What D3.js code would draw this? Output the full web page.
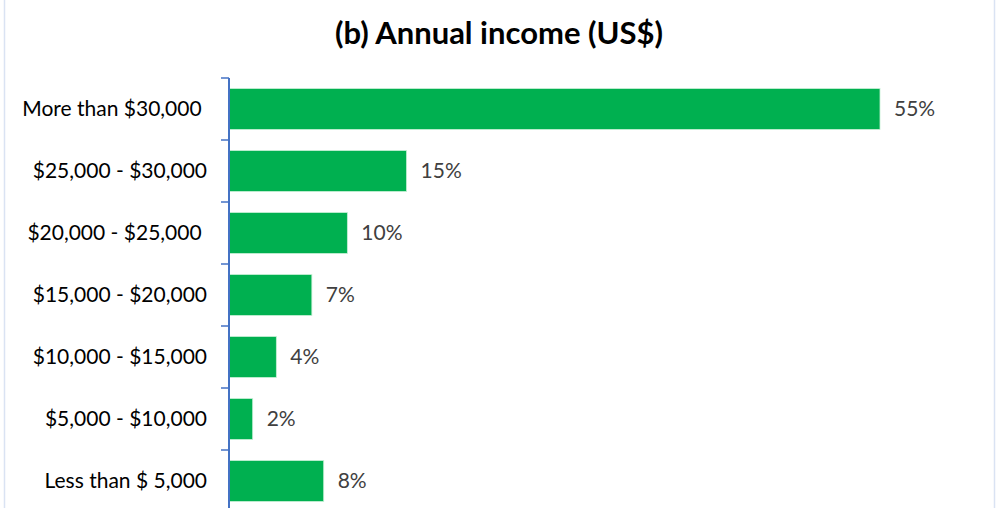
<!DOCTYPE html>
<html>
<head>
<meta charset="utf-8">
<script src="https://cdn.jsdelivr.net/npm/d3@7/dist/d3.min.js"></script>
<style>
  html, body { margin: 0; padding: 0; background: #fff; }
  svg { display: block; }
</style>
</head>
<body>
<svg id="chart" width="1008" height="508"></svg>
<script>
// Income brackets, top to bottom
const categories = [
  "More than $30,000 ",
  "$25,000 - $30,000",
  "$20,000 - $25,000 ",
  "$15,000 - $20,000",
  "$10,000 - $15,000",
  "$5,000 - $10,000",
  "Less than $ 5,000"
];
// Share of respondents (%)
const values = [55, 15, 10, 7, 4, 2, 8];
const valueLabels = ["55%", "15%", "10%", "7%", "4%", "2%", "8%"];

const svg = d3.select("#chart");
const W = 1008, H = 508;
const font = "Lato, 'Open Sans', sans-serif";

// chart frame
svg.append("rect")
  .attr("x", 4.5).attr("y", -2)
  .attr("width", 990).attr("height", H + 10)
  .attr("fill", "#fff")
  .attr("stroke", "#dae3f3").attr("stroke-width", 1.5);

svg.append("text")
  .attr("x", 499).attr("y", 44)
  .attr("text-anchor", "middle")
  .attr("font-family", font)
  .attr("font-weight", "bold")
  .attr("font-size", 31)
  .attr("fill", "#000")
  .text("(b) Annual income (US$)");

const x0 = 229;
const x = d3.scaleLinear().domain([0, 55]).range([x0, 880]);
const y = d3.scaleBand().domain(categories).range([78, 512]).paddingInner(0.34).paddingOuter(0.17);

const data = categories.map((c, i) => ({ c, v: values[i], lab: valueLabels[i] }));

svg.append("g").selectAll("rect")
  .data(data).join("rect")
  .attr("x", x(0))
  .attr("y", d => y(d.c))
  .attr("width", d => x(d.v) - x(0))
  .attr("height", y.bandwidth())
  .attr("fill", "#00b050")
  .attr("stroke", "#c6efd5").attr("stroke-width", 0.8);

svg.append("g").selectAll("text")
  .data(data).join("text")
  .attr("x", d => x(d.v) + 14)
  .attr("y", d => y(d.c) + y.bandwidth() / 2)
  .attr("dy", "0.35em")
  .attr("font-family", font)
  .attr("font-size", 21)
  .attr("fill", "#404040")
  .text(d => d.lab);

// category axis with ticks on band boundaries
const step = y.step();
const boundaries = d3.range(categories.length + 1).map(i => 78 + i * step);
const axis = svg.append("g");
axis.append("line")
  .attr("x1", x0).attr("x2", x0)
  .attr("y1", 78).attr("y2", 512)
  .attr("stroke", "#4472c4").attr("stroke-width", 2);
axis.selectAll("line.tick")
  .data(boundaries).join("line")
  .attr("class", "tick")
  .attr("x1", x0 - 8).attr("x2", x0)
  .attr("y1", d => d).attr("y2", d => d)
  .attr("stroke", "#4472c4").attr("stroke-width", 1.5);
axis.selectAll("text")
  .data(categories).join("text")
  .attr("x", 207)
  .attr("y", d => y(d) + y.bandwidth() / 2)
  .attr("dy", "0.35em")
  .attr("text-anchor", "end")
  .attr("xml:space", "preserve")
  .style("white-space", "pre")
  .attr("font-family", font)
  .attr("font-size", 21)
  .attr("fill", "#000")
  .text(d => d);
</script>
</body>
</html>
